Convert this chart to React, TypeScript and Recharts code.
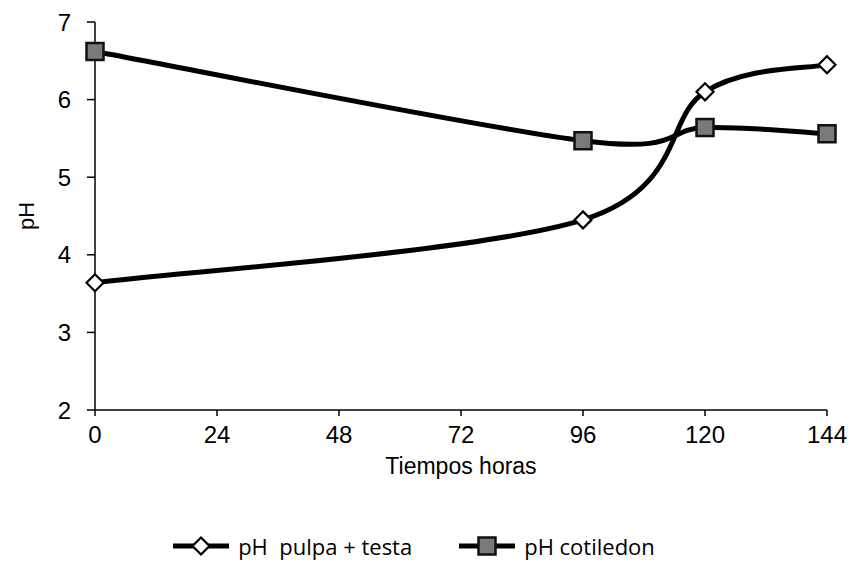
import React from 'react';
import { LineChart, Line, XAxis, YAxis, Legend } from 'recharts';

// hours of fermentation and pH readings
const hours = [0, 96, 120, 144];
const phPulpa = [3.64, 4.45, 6.1, 6.45];
const phCotiledon = [6.62, 5.47, 5.64, 5.56];
const xTicks = [0, 24, 48, 72, 96, 120, 144];
const yTicks = [2, 3, 4, 5, 6, 7];

const data = hours.map((t, i) => ({ t, pulpa: phPulpa[i], cotiledon: phCotiledon[i] }));

const AXIS_FONT = '"Liberation Sans", Arial, sans-serif';
const LEGEND_FONT = '"Open Sans", "Noto Sans", sans-serif';

// Excel-like smoothed line (catmull-rom through the points)
const smoothCurve = (context: any) => {
  let pts: [number, number][] = [];
  return {
    areaStart() {},
    areaEnd() {},
    lineStart() {
      pts = [];
    },
    point(x: number, y: number) {
      pts.push([+x, +y]);
    },
    lineEnd() {
      const n = pts.length;
      if (!n) return;
      context.moveTo(pts[0][0], pts[0][1]);
      for (let i = 0; i < n - 1; i++) {
        const p0 = pts[Math.max(i - 1, 0)];
        const p1 = pts[i];
        const p2 = pts[i + 1];
        const p3 = pts[Math.min(i + 2, n - 1)];
        context.bezierCurveTo(
          p1[0] + (p2[0] - p0[0]) / 6,
          p1[1] + (p2[1] - p0[1]) / 6,
          p2[0] - (p3[0] - p1[0]) / 6,
          p2[1] - (p3[1] - p1[1]) / 6,
          p2[0],
          p2[1]
        );
      }
    },
  };
};

const Diamond = (props: any) => {
  const { cx, cy } = props;
  if (cx == null || cy == null) return null;
  const r = 8.5;
  return (
    <path
      key={`d-${cx}`}
      d={`M${cx},${cy - r}L${cx + r},${cy}L${cx},${cy + r}L${cx - r},${cy}Z`}
      fill="#fff"
      stroke="#000"
      strokeWidth={2.2}
    />
  );
};

const Square = (props: any) => {
  const { cx, cy } = props;
  if (cx == null || cy == null) return null;
  const s = 17;
  return (
    <rect
      key={`s-${cx}`}
      x={cx - s / 2}
      y={cy - s / 2}
      width={s}
      height={s}
      fill="#7a7a7a"
      stroke="#111"
      strokeWidth={2.5}
    />
  );
};

const legendItems = [
  { label: 'pH\u00a0\u00a0pulpa + testa', marker: 'diamond' },
  { label: 'pH cotiledon', marker: 'square' },
];

const renderLegend = () => (
  <div
    style={{
      display: 'flex',
      justifyContent: 'center',
      alignItems: 'center',
      gap: 46,
      fontFamily: LEGEND_FONT,
      fontSize: 22,
      color: '#000',
    }}
  >
    {legendItems.map((it) => (
      <div key={it.label} style={{ display: 'flex', alignItems: 'center', gap: 8 }}>
        <svg width={58} height={22}>
          <line x1={1} y1={11} x2={57} y2={11} stroke="#000" strokeWidth={5} />
          {it.marker === 'diamond' ? (
            <Diamond cx={29} cy={11} />
          ) : (
            <Square cx={29} cy={11} />
          )}
        </svg>
        <span>{it.label}</span>
      </div>
    ))}
  </div>
);

export default function App() {
  return (
    <div style={{ position: 'absolute', left: 0, top: 0, background: '#fff' }}>
      <LineChart width={852} height={571} data={data} margin={{ top: 22, right: 25, left: 0, bottom: 10 }}>
        <XAxis
          dataKey="t"
          type="number"
          domain={[0, 144]}
          ticks={xTicks}
          height={121}
          tickSize={6}
          tickMargin={10}
          stroke="#000"
          strokeWidth={1.5}
          tick={{ fill: '#000', fontSize: 24, fontFamily: AXIS_FONT }}
          label={{
            content: ({ viewBox }: any) => (
              <text
                x={viewBox.x + viewBox.width / 2}
                y={viewBox.y + 64}
                textAnchor="middle"
                fontSize={23}
                fontFamily={AXIS_FONT}
                fill="#000"
              >
                Tiempos horas
              </text>
            ),
          }}
        />
        <YAxis
          type="number"
          domain={[2, 7]}
          ticks={yTicks}
          width={95}
          tickSize={8}
          tickMargin={16}
          stroke="#000"
          strokeWidth={1.5}
          tick={{ fill: '#000', fontSize: 24, fontFamily: AXIS_FONT }}
          label={{
            content: ({ viewBox }: any) => {
              const x = viewBox.x + 34;
              const y = viewBox.y + viewBox.height / 2;
              return (
                <text
                  x={x}
                  y={y}
                  transform={`rotate(-90 ${x} ${y})`}
                  textAnchor="middle"
                  fontSize={22}
                  fontFamily={AXIS_FONT}
                  fill="#000"
                >
                  pH
                </text>
              );
            },
          }}
        />
        <Legend verticalAlign="bottom" height={30} content={renderLegend} />
        <Line
          dataKey="pulpa"
          name="pH  pulpa + testa"
          type={smoothCurve as any}
          stroke="#000"
          strokeWidth={5}
          dot={Diamond}
          activeDot={false}
          isAnimationActive={false}
        />
        <Line
          dataKey="cotiledon"
          name="pH cotiledon"
          type={smoothCurve as any}
          stroke="#000"
          strokeWidth={5}
          dot={Square}
          activeDot={false}
          isAnimationActive={false}
        />
      </LineChart>
    </div>
  );
}
